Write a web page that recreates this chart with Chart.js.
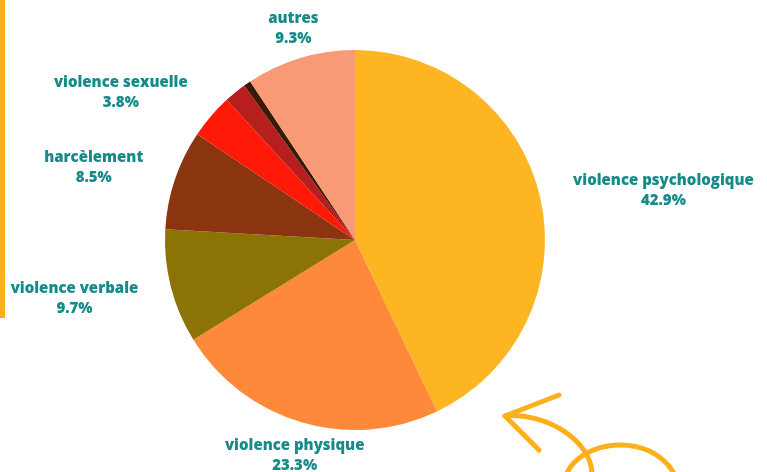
<!DOCTYPE html>
<html>
<head>
<meta charset="utf-8">
<script src="https://cdn.jsdelivr.net/npm/chart.js@4.4.1/dist/chart.umd.min.js"></script>
<style>
  html, body { margin: 0; padding: 0; background: #fff; }
  #wrap { width: 767px; height: 472px; position: relative; }
</style>
</head>
<body>
<div id="wrap"><canvas id="pie-chartcanvas"></canvas></div>
<script>
// data
var categories = ["violence psychologique", "violence physique", "violence verbale",
                  "harcèlement", "violence sexuelle", "", "", "autres"];
var values = [42.9, 23.3, 9.7, 8.5, 3.8, 1.9, 0.6, 9.3];
var colors = ["#FDB521", "#FF893A", "#8C7306", "#8B3510", "#FF1A08", "#B71F1F", "#3A1A05", "#F99A76"];

var labelColor = "#178A8A";
var labelFont = "800 15px 'Open Sans', sans-serif";

// outside labels, two lines: name + percentage
var outsideLabels = {
    id: "outsideLabels",
    afterDatasetsDraw: function(chart) {
        var ctx = chart.ctx;
        var meta = chart.getDatasetMeta(0);
        ctx.save();
        ctx.font = labelFont;
        ctx.fillStyle = labelColor;
        ctx.textAlign = "center";
        ctx.textBaseline = "middle";
        meta.data.forEach(function(arc, i) {
            if (!categories[i]) return;
            var mid = (arc.startAngle + arc.endAngle) / 2;
            var dx = Math.cos(mid), dy = Math.sin(mid);
            var line2 = values[i].toFixed(1) + "%";
            var w = Math.max(ctx.measureText(categories[i]).width, ctx.measureText(line2).width);
            var d = arc.outerRadius + 20 + 14 * Math.abs(dx);
            var x = arc.x + dx * d + (Math.abs(dx) > 0.5 ? Math.sign(dx) * w / 2 : 0);
            var y = arc.y + dy * d + dy * 9 + 2;
            ctx.fillText(categories[i], x, y - 10);
            ctx.fillText(line2, x, y + 10);
        });
        ctx.restore();
    }
};

// decorations: left bar and hand-drawn arrow
var decorations = {
    id: "decorations",
    afterDraw: function(chart) {
        var ctx = chart.ctx;
        ctx.save();
        ctx.fillStyle = "#FDB01A";
        ctx.fillRect(0, 0, 5, 318);
        ctx.strokeStyle = "#FDB01A";
        ctx.lineWidth = 5;
        ctx.lineCap = "round";
        ctx.lineJoin = "round";
        ctx.beginPath();
        ctx.moveTo(559, 395);
        ctx.lineTo(505, 416);
        ctx.lineTo(539, 450);
        ctx.stroke();
        ctx.beginPath();
        ctx.moveTo(505, 416);
        ctx.bezierCurveTo(545, 412, 592, 440, 592, 475);
        ctx.stroke();
        ctx.beginPath();
        ctx.moveTo(566, 475);
        ctx.bezierCurveTo(580, 440, 650, 430, 675, 475);
        ctx.stroke();
        ctx.restore();
    }
};

var ctx = document.getElementById("pie-chartcanvas");

var chart = new Chart(ctx, {
    type: "pie",
    data: {
        labels: categories,
        datasets: [{
            data: values,
            backgroundColor: colors,
            borderWidth: 0
        }]
    },
    options: {
        responsive: true,
        maintainAspectRatio: false,
        animation: false,
        layout: { padding: { left: 165, right: 222, top: 50, bottom: 42 } },
        plugins: {
            legend: { display: false },
            tooltip: { enabled: false }
        }
    },
    plugins: [outsideLabels, decorations]
});
</script>
</body>
</html>
